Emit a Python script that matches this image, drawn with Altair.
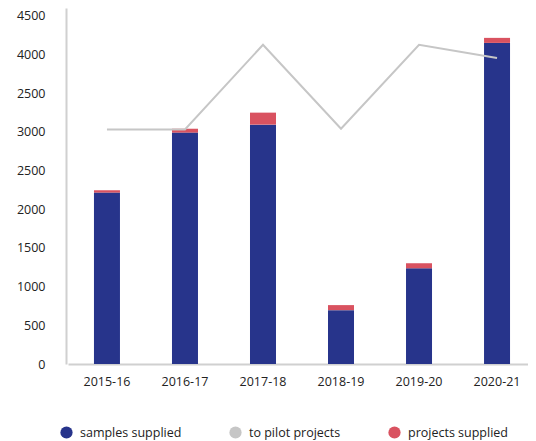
import json
import altair as alt
import pandas as pd

years = ["2015-16", "2016-17", "2017-18", "2018-19", "2019-20", "2020-21"]
samples_supplied = [2215, 2990, 3093, 696, 1237, 4149]
projects_supplied = [30, 50, 155, 65, 65, 65]
pilot_projects = [3030, 3030, 4125, 3040, 4125, 3955]

series_names = ["samples supplied", "to pilot projects", "projects supplied"]
series_colors = ["#27348B", "#C6C6C6", "#D95260"]

y_ticks = [0, 500, 1000, 1500, 2000, 2500, 3000, 3500, 4000, 4500]
y_tick_labels = ["0", "500", "1000", "1500", "2000", "2500", "3000", "2500", "4000", "4500"]

bars = pd.DataFrame(
    [{"year": y, "series": "samples supplied", "value": v, "order": 0} for y, v in zip(years, samples_supplied)]
    + [{"year": y, "series": "projects supplied", "value": v, "order": 1} for y, v in zip(years, projects_supplied)]
)
line = pd.DataFrame({"year": years, "value": pilot_projects, "series": "to pilot projects"})

FONT = "Open Sans"

x_enc = alt.X(
    "year:N",
    sort=years,
    scale=alt.Scale(range=[2, 470], paddingInner=0.667, paddingOuter=0.333),
    axis=alt.Axis(
        title=None, labelAngle=0, ticks=False, domainColor="#D0D0D0", domainWidth=2,
        labelFont=FONT, labelFontSize=12.5, labelColor="#222222", labelPadding=11,
    ),
)
y_scale = alt.Scale(domain=[0, 4600], nice=False)
color_scale = alt.Scale(domain=series_names, range=series_colors)

label_expr = json.dumps(y_tick_labels) + "[round(datum.value / 500)]"
y_axis = alt.Axis(
    title=None, values=y_ticks, labelExpr=label_expr, grid=False, ticks=False,
    domainColor="#D0D0D0", domainWidth=2, labelFont=FONT, labelFontSize=12.5,
    labelColor="#222222", labelPadding=21, labelOverlap=False,
)

bar_layer = alt.Chart(bars).mark_bar(size=26).encode(
    x=x_enc,
    y=alt.Y("value:Q", stack="zero", scale=y_scale, axis=y_axis),
    color=alt.Color(
        "series:N", scale=color_scale,
        legend=alt.Legend(
            title=None, orient="none", direction="horizontal", legendX=-6, legendY=418,
            symbolType="circle", symbolSize=150, symbolStrokeWidth=0, symbolOpacity=1,
            labelFont=FONT, labelFontSize=12.5, labelColor="#222222", labelOffset=7,
            columnPadding=47,
        ),
    ),
    order=alt.Order("order:Q"),
)

line_layer = alt.Chart(line).mark_line(strokeWidth=2).encode(
    x=x_enc,
    y=alt.Y("value:Q", scale=y_scale, axis=y_axis),
    color=alt.Color("series:N", scale=color_scale),
)

chart = alt.layer(bar_layer, line_layer).properties(
    width=462,
    height=356,
    autosize=alt.AutoSizeParams(type="none"),
    padding={"left": 58, "top": 0, "right": 0, "bottom": 77},
).configure_view(stroke=None)

chart.save("out.html", embed_options={"renderer": "svg", "actions": False})
